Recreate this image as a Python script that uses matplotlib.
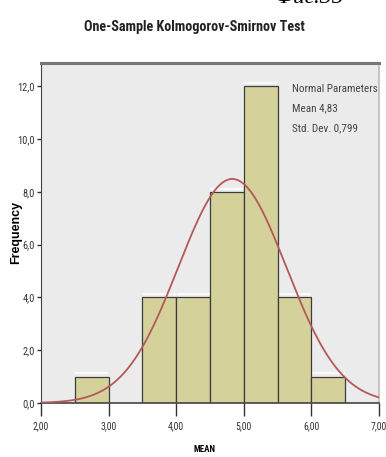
"""Histogram of MEAN with fitted normal curve (SPSS style)."""
import numpy as np
import matplotlib
matplotlib.use('Agg')
import matplotlib.pyplot as plt

NARROW = ['Roboto Condensed', 'Liberation Sans', 'DejaVu Sans']

bin_left = [2.5, 3.5, 4.0, 4.5, 5.0, 5.5, 6.0]
bin_counts = [1, 4, 4, 8, 12, 4, 1]
bin_width = 0.5
fit_mean = 4.83
fit_sd = 0.799
x_ticks = [2.0, 3.0, 4.0, 5.0, 6.0, 7.0]
x_tick_labels = ['2,00', '3,00', '4,00', '5,00', '6,00', '7,00']
y_ticks = [0, 2, 4, 6, 8, 10, 12]
y_tick_labels = ['0,0', '2,0', '4,0', '6,0', '8,0', '10,0', '12,0']
legend_lines = ['Normal Parameters', 'Mean 4,83', 'Std. Dev. 0,799']

fig = plt.figure(figsize=(3.86, 4.57), dpi=100)
ax = fig.add_axes([41 / 386, 1 - 403 / 457, 338 / 386, 340 / 457])
ax.set_facecolor('#ebebeb')

ax.bar(bin_left, bin_counts, width=bin_width, align='edge',
       color='#d5d19a', edgecolor='#3c3c3c', linewidth=0.9, zorder=2)
# light highlight along the top of each bar
for left, count in zip(bin_left, bin_counts):
    ax.plot([left + 0.02, left + bin_width - 0.02], [count + 0.12, count + 0.12],
            color='white', linewidth=1.6, alpha=0.8, zorder=1)

total = sum(bin_counts)
xs = np.linspace(2.0, 7.0, 300)
pdf = np.exp(-0.5 * ((xs - fit_mean) / fit_sd) ** 2) / (fit_sd * np.sqrt(2 * np.pi))
ax.plot(xs, total * bin_width * pdf, color='#b5585a', linewidth=1.3, zorder=3)

ax.set_xlim(2.0, 7.0)
ax.set_ylim(0, 12.88)
ax.set_xticks(x_ticks)
ax.set_xticklabels(x_tick_labels, family=NARROW, fontsize=7, color='#333333')
ax.set_yticks(y_ticks)
ax.set_yticklabels(y_tick_labels, family=NARROW, fontsize=7.5, color='#333333')
ax.tick_params(axis='x', direction='out', length=9, width=1, color='#333333', pad=4)
ax.tick_params(axis='y', direction='out', length=3, width=1, color='#333333', pad=1.5)

ax.spines['left'].set_color('#444444')
ax.spines['bottom'].set_color('#444444')
ax.spines['bottom'].set_linewidth(1.2)
ax.spines['top'].set_color('#777777')
ax.spines['top'].set_linewidth(2.2)
ax.spines['right'].set_color('#bbbbbb')
ax.spines['right'].set_linewidth(1.2)

ax.set_xlabel('MEAN', family=NARROW, fontsize=6.5, fontweight='bold')
ax.xaxis.set_label_coords(164 / 338, -(450 - 403) / 340)
ax.xaxis.label.set_va('center')
ax.set_ylabel('Frequency', family=['Liberation Sans', 'DejaVu Sans'], fontsize=9,
              fontweight='bold')
ax.yaxis.set_label_coords(-(41 - 16) / 338, (403 - 232) / 340)
ax.yaxis.label.set_va('center')

for i, line in enumerate(legend_lines):
    ax.text(292 / 386, 1 - (89 + 19.5 * i) / 457, line, transform=fig.transFigure,
            family=NARROW, fontsize=8, color='#444444', va='center', ha='left')

fig.text(0.505, 1 - 27 / 457, 'One-Sample Kolmogorov-Smirnov Test', family=NARROW,
         fontsize=10.2, fontweight='bold', ha='center', va='center', color='#222222')
fig.text(275 / 386, 1 - 3 / 457, 'Фиг.35', family=['Liberation Serif', 'DejaVu Serif'],
         fontsize=17, style='italic', ha='left', va='baseline')

fig.savefig('out.png', dpi=100)
